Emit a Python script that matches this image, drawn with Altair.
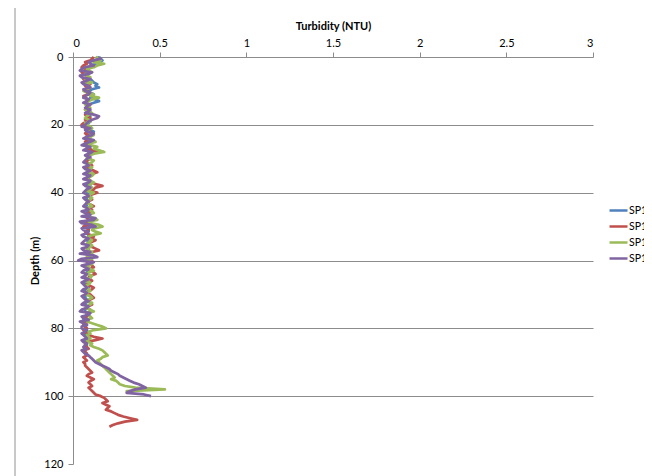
import altair as alt
import pandas as pd

# Series names
series_names = ["SP11", "SP12", "SP13", "SP14"]

# Turbidity (NTU) at whole metres of depth, starting at 0 m
sp11 = [0.14, 0.17, 0.13, 0.10, 0.08, 0.07, 0.09, 0.11, 0.14, 0.15,
        0.09, 0.12, 0.10, 0.15, 0.09, 0.08, 0.10, 0.09, 0.08, 0.10,
        0.08, 0.09, 0.12, 0.09, 0.08, 0.09, 0.08, 0.10, 0.09, 0.08,
        0.09, 0.08, 0.09, 0.08, 0.10, 0.09, 0.08, 0.09, 0.10, 0.09,
        0.08, 0.09, 0.08, 0.09, 0.08, 0.10, 0.09, 0.08, 0.09, 0.08,
        0.10, 0.09, 0.08, 0.09, 0.08, 0.09, 0.08, 0.09, 0.08, 0.10,
        0.08, 0.09, 0.08, 0.09, 0.08, 0.07, 0.08, 0.07, 0.09, 0.07,
        0.08, 0.07, 0.09, 0.07, 0.08, 0.07, 0.08, 0.07, 0.06, 0.08,
        0.07, 0.08, 0.07, 0.08, 0.07, 0.08, 0.07, 0.07, 0.08]

sp12 = [0.12, 0.10, 0.08, 0.05, 0.08, 0.06, 0.09, 0.07, 0.10, 0.08,
        0.07, 0.09, 0.07, 0.08, 0.10, 0.08, 0.09, 0.07, 0.10, 0.08,
        0.05, 0.07, 0.10, 0.08, 0.09, 0.07, 0.10, 0.09, 0.14, 0.08,
        0.10, 0.07, 0.11, 0.09, 0.14, 0.10, 0.09, 0.11, 0.17, 0.12,
        0.14, 0.09, 0.11, 0.08, 0.12, 0.11, 0.09, 0.07, 0.10, 0.08,
        0.06, 0.09, 0.08, 0.12, 0.13, 0.09, 0.11, 0.15, 0.10, 0.08,
        0.11, 0.09, 0.12, 0.10, 0.13, 0.09, 0.11, 0.08, 0.12, 0.09,
        0.10, 0.12, 0.09, 0.11, 0.08, 0.10, 0.09, 0.07, 0.09, 0.06,
        0.08, 0.07, 0.09, 0.17, 0.08, 0.07, 0.09, 0.07, 0.08, 0.07,
        0.06, 0.07, 0.09, 0.11, 0.08, 0.12, 0.09, 0.11, 0.10, 0.12,
        0.16, 0.19, 0.17, 0.21, 0.19, 0.24, 0.29, 0.37, 0.26, 0.21]

sp13 = [0.13, 0.16, 0.18, 0.12, 0.09, 0.07, 0.10, 0.08, 0.07, 0.10,
        0.06, 0.12, 0.15, 0.09, 0.07, 0.10, 0.08, 0.09, 0.07, 0.10,
        0.08, 0.11, 0.09, 0.12, 0.08, 0.13, 0.10, 0.12, 0.18, 0.10,
        0.09, 0.11, 0.08, 0.10, 0.09, 0.11, 0.08, 0.12, 0.09, 0.10,
        0.12, 0.09, 0.10, 0.08, 0.11, 0.09, 0.12, 0.08, 0.14, 0.10,
        0.17, 0.11, 0.16, 0.09, 0.11, 0.08, 0.10, 0.09, 0.11, 0.10,
        0.08, 0.11, 0.09, 0.12, 0.08, 0.10, 0.07, 0.09, 0.08, 0.10,
        0.07, 0.11, 0.08, 0.10, 0.07, 0.12, 0.09, 0.11, 0.08, 0.14,
        0.19, 0.09, 0.08, 0.10, 0.09, 0.10, 0.15, 0.18, 0.20, 0.16,
        0.15, 0.17, 0.19, 0.21, 0.23, 0.22, 0.26, 0.30, 0.53, 0.34]

sp14 = [0.15, 0.12, 0.10, 0.07, 0.04, 0.09, 0.05, 0.08, 0.06, 0.10,
        0.07, 0.09, 0.06, 0.08, 0.10, 0.07, 0.09, 0.12, 0.14, 0.09,
        0.07, 0.10, 0.08, 0.11, 0.06, 0.10, 0.05, 0.08, 0.11, 0.07,
        0.08, 0.06, 0.09, 0.07, 0.08, 0.10, 0.06, 0.09, 0.07, 0.08,
        0.06, 0.09, 0.07, 0.08, 0.06, 0.09, 0.07, 0.05, 0.12, 0.05,
        0.13, 0.06, 0.08, 0.06, 0.07, 0.05, 0.08, 0.06, 0.04, 0.14,
        0.03, 0.09, 0.07, 0.06, 0.08, 0.05, 0.07, 0.06, 0.08, 0.05,
        0.07, 0.06, 0.09, 0.05, 0.08, 0.04, 0.09, 0.06, 0.04, 0.08,
        0.05, 0.07, 0.06, 0.08, 0.06, 0.07, 0.08, 0.06, 0.09, 0.11,
        0.13, 0.17, 0.21, 0.24, 0.27, 0.31, 0.35, 0.40, 0.36, 0.31,
        0.45]

# Turbidity (NTU) at the half metres in between (0.5 m, 1.5 m, ...)
sp11_half = [0.16, 0.15, 0.11, 0.09, 0.07, 0.08, 0.10, 0.12, 0.13, 0.11,
             0.10, 0.11, 0.13, 0.12, 0.08, 0.09, 0.08, 0.10, 0.09, 0.09,
             0.08, 0.10, 0.11, 0.08, 0.09, 0.08, 0.09, 0.08, 0.10, 0.09,
             0.08, 0.09, 0.08, 0.09, 0.08, 0.09, 0.10, 0.08, 0.09, 0.08,
             0.09, 0.08, 0.09, 0.08, 0.09, 0.08, 0.09, 0.08, 0.09, 0.08,
             0.09, 0.08, 0.09, 0.08, 0.09, 0.08, 0.09, 0.08, 0.09, 0.08,
             0.09, 0.08, 0.09, 0.08, 0.07, 0.08, 0.07, 0.08, 0.07, 0.08,
             0.07, 0.08, 0.07, 0.08, 0.07, 0.08, 0.07, 0.06, 0.07, 0.07,
             0.08, 0.07, 0.08, 0.07, 0.08, 0.07, 0.07, 0.08]

sp12_half = [0.11, 0.07, 0.06, 0.07, 0.05, 0.08, 0.06, 0.09, 0.07, 0.09,
             0.08, 0.06, 0.09, 0.07, 0.09, 0.07, 0.10, 0.08, 0.07, 0.06,
             0.08, 0.09, 0.07, 0.10, 0.08, 0.09, 0.08, 0.11, 0.11, 0.09,
             0.08, 0.10, 0.08, 0.12, 0.11, 0.08, 0.10, 0.13, 0.13, 0.10,
             0.11, 0.10, 0.09, 0.10, 0.09, 0.10, 0.08, 0.09, 0.07, 0.09,
             0.08, 0.07, 0.10, 0.10, 0.11, 0.10, 0.13, 0.11, 0.09, 0.10,
             0.08, 0.11, 0.09, 0.12, 0.10, 0.10, 0.09, 0.10, 0.11, 0.08,
             0.11, 0.10, 0.10, 0.09, 0.10, 0.08, 0.08, 0.08, 0.07, 0.07,
             0.06, 0.08, 0.12, 0.13, 0.07, 0.08, 0.06, 0.08, 0.06, 0.08,
             0.07, 0.08, 0.10, 0.09, 0.10, 0.10, 0.10, 0.09, 0.11, 0.13,
             0.18, 0.20, 0.19, 0.20, 0.22, 0.26, 0.33, 0.30, 0.23]

sp13_half = [0.15, 0.12, 0.14, 0.08, 0.11, 0.08, 0.07, 0.11, 0.09, 0.08,
             0.09, 0.10, 0.11, 0.07, 0.09, 0.07, 0.11, 0.08, 0.09, 0.07,
             0.10, 0.08, 0.10, 0.10, 0.11, 0.09, 0.14, 0.15, 0.12, 0.08,
             0.12, 0.09, 0.11, 0.08, 0.12, 0.09, 0.10, 0.10, 0.11, 0.08,
             0.10, 0.11, 0.08, 0.10, 0.08, 0.11, 0.09, 0.12, 0.09, 0.15,
             0.12, 0.13, 0.11, 0.08, 0.10, 0.11, 0.08, 0.11, 0.08, 0.11,
             0.10, 0.08, 0.10, 0.09, 0.11, 0.08, 0.10, 0.07, 0.09, 0.08,
             0.10, 0.09, 0.11, 0.08, 0.10, 0.08, 0.10, 0.07, 0.11, 0.17,
             0.12, 0.10, 0.09, 0.08, 0.11, 0.12, 0.17, 0.19, 0.17, 0.14,
             0.16, 0.18, 0.20, 0.22, 0.24, 0.25, 0.27, 0.36, 0.31]

sp14_half = [0.16, 0.09, 0.12, 0.05, 0.11, 0.04, 0.10, 0.05, 0.09, 0.06,
             0.10, 0.07, 0.09, 0.06, 0.08, 0.10, 0.07, 0.15, 0.11, 0.08,
             0.05, 0.07, 0.12, 0.08, 0.12, 0.07, 0.10, 0.06, 0.09, 0.10,
             0.07, 0.08, 0.06, 0.10, 0.06, 0.08, 0.10, 0.06, 0.10, 0.07,
             0.08, 0.06, 0.09, 0.07, 0.08, 0.05, 0.10, 0.13, 0.04, 0.11,
             0.05, 0.09, 0.05, 0.09, 0.06, 0.09, 0.05, 0.10, 0.12, 0.05,
             0.12, 0.05, 0.09, 0.05, 0.07, 0.09, 0.05, 0.07, 0.06, 0.08,
             0.05, 0.07, 0.06, 0.09, 0.05, 0.10, 0.05, 0.09, 0.06, 0.05,
             0.08, 0.05, 0.07, 0.05, 0.08, 0.06, 0.05, 0.07, 0.10, 0.12,
             0.15, 0.19, 0.22, 0.26, 0.29, 0.33, 0.38, 0.42, 0.33, 0.41]

series_whole = [sp11, sp12, sp13, sp14]
series_half = [sp11_half, sp12_half, sp13_half, sp14_half]
series_colors = ["#4F81BD", "#C0504D", "#9BBB59", "#8064A2"]

x_ticks = [0, 0.5, 1, 1.5, 2, 2.5, 3]
y_ticks = [0, 20, 40, 60, 80, 100, 120]

rows = []
for name, whole, half in zip(series_names, series_whole, series_half):
    for i, v in enumerate(whole):
        rows.append({"series": name, "depth": float(i), "turbidity": v})
        if i < len(half):
            rows.append({"series": name, "depth": i + 0.5, "turbidity": half[i]})
df = pd.DataFrame(rows)

FONT = "Lato"
AXIS_GRAY = "#8c8c8c"

lines = alt.Chart(df).mark_line(strokeWidth=2.75, strokeJoin="round").encode(
    x=alt.X("turbidity:Q",
            scale=alt.Scale(domain=[0, 3], nice=False),
            axis=alt.Axis(orient="top", values=x_ticks, format="~g", grid=False,
                          title="Turbidity (NTU)", titleFontWeight="bold",
                          titleFontSize=11, titlePadding=6,
                          labelFontSize=11, labelPadding=4,
                          tickSize=5, domainColor=AXIS_GRAY, tickColor=AXIS_GRAY)),
    y=alt.Y("depth:Q",
            scale=alt.Scale(domain=[0, 120], reverse=True, nice=False),
            axis=alt.Axis(values=y_ticks, grid=True, gridColor=AXIS_GRAY,
                          gridOpacity={"condition": {"test": "datum.value >= 120 || datum.value <= 0", "value": 0}, "value": 1},
                          title="Depth (m)", titleFontWeight="bold", titleFontSize=11,
                          titlePadding=3, labelFontSize=11, labelPadding=5,
                          tickSize=5, domainColor=AXIS_GRAY, tickColor=AXIS_GRAY)),
    color=alt.Color("series:N",
                    scale=alt.Scale(domain=series_names, range=series_colors),
                    legend=alt.Legend(title=None, orient="none", legendX=535, legendY=143,
                                      symbolType="stroke", symbolSize=324,
                                      symbolStrokeWidth=2.5, labelFontSize=10.5,
                                      labelOffset=0, rowPadding=0, padding=0)),
    order=alt.Order("depth:Q"),
)

border = alt.Chart(df).mark_rule(color="#c8c8c8", strokeWidth=1).encode(
    x=alt.value(-58), y=alt.value(-57), y2=alt.value(419)
)

chart = alt.layer(border, lines).properties(
    width=520, height=407,
    padding={"left": 65, "top": 49, "right": 51, "bottom": 12},
    autosize=alt.AutoSizeParams(type="none"),
).configure(font=FONT).configure_view(stroke=None).configure_axis(
    labelColor="black", titleColor="black", labelFont=FONT, titleFont=FONT
).configure_legend(labelFont=FONT, labelColor="black")

chart.save("out.html", embed_options={"renderer": "svg", "actions": False})
